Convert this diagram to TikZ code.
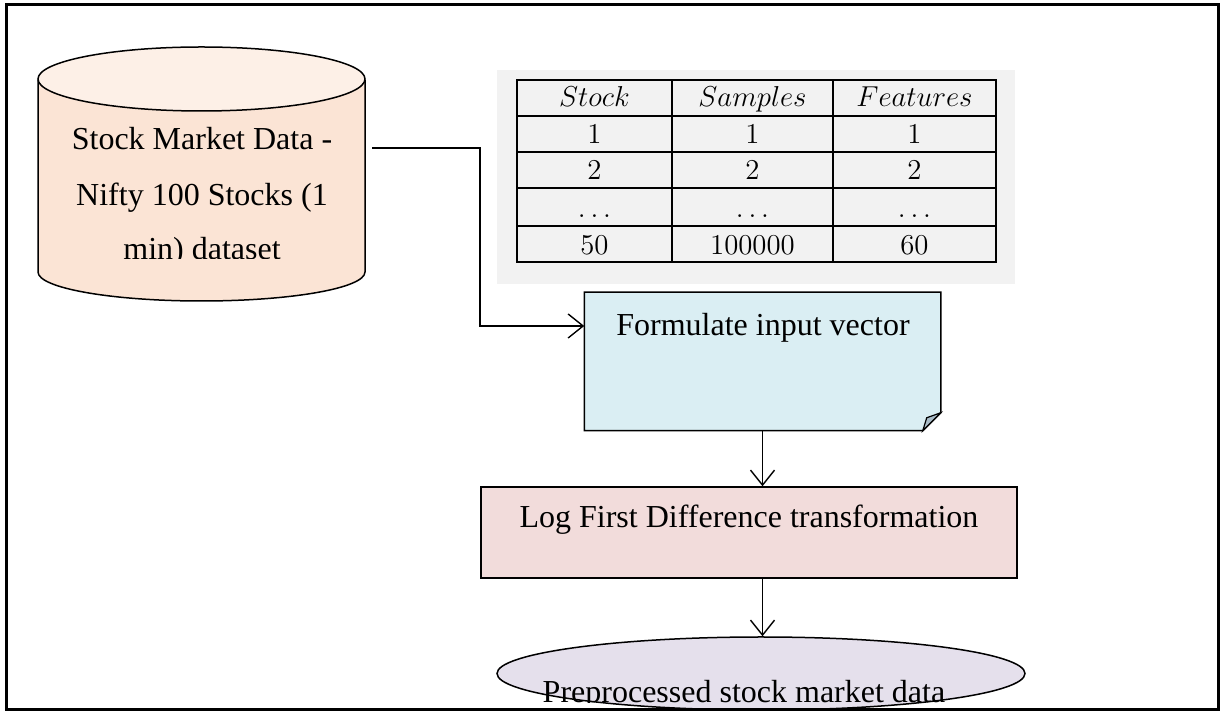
\documentclass[tikz,border=0pt]{standalone}
\usepackage{fontspec}
\setmainfont{Liberation Serif}
\usetikzlibrary{shapes.geometric,arrows.meta}
\definecolor{peach}{HTML}{FBE4D5}
\definecolor{peachtop}{HTML}{FDF0E7}
\definecolor{lblue}{HTML}{DAEEF3}
\definecolor{foldc}{HTML}{A9BCC8}
\definecolor{lpink}{HTML}{F2DCDB}
\definecolor{lav}{HTML}{E5E0EC}
\definecolor{tgray}{HTML}{F2F2F2}
\begin{document}
\begin{tikzpicture}[x=0.5pt,y=-0.5pt,line width=0.75pt,
  lbl/.style={font=\fontsize{16}{19}\selectfont,inner sep=0pt,anchor=base},
  tcell/.style={font=\fontsize{15}{17}\selectfont,inner sep=0pt,anchor=base},
  conn/.style={-{Straight Barb[length=7.5pt,width=12pt]},line width=0.7pt},
  boxnode/.style={rectangle,inner sep=0pt}]
\useasboundingbox (0,0) rectangle (1222,715);

% table background and grid
\node[boxnode,fill=tgray,minimum width=259pt,minimum height=107pt] (tblbg) at (756,177) {};
\draw[line width=1pt] (517,80) rectangle (996,262);
\foreach \xx in {672,833} \draw[line width=1pt] (\xx,80) -- (\xx,262);
\foreach \yy in {116,152,188,226} \draw[line width=1pt] (517,\yy) -- (996,\yy);
\node[tcell] (h1) at (594.5,107) {$Stock$};
\node[tcell] (h2) at (752.5,107) {$Samples$};
\node[tcell] (h3) at (914.5,107) {$Features$};
\node[tcell] (a1) at (594.5,144) {$1$};
\node[tcell] (a2) at (752.5,144) {$1$};
\node[tcell] (a3) at (914.5,144) {$1$};
\node[tcell] (b1) at (594.5,180) {$2$};
\node[tcell] (b2) at (752.5,180) {$2$};
\node[tcell] (b3) at (914.5,180) {$2$};
\node[tcell] (c1) at (594.5,218) {$\ldots$};
\node[tcell] (c2) at (752.5,218) {$\ldots$};
\node[tcell] (c3) at (914.5,218) {$\ldots$};
\node[tcell] (d1) at (594.5,255) {$50$};
\node[tcell] (d2) at (752.5,255) {$100000$};
\node[tcell] (d3) at (914.5,255) {$60$};

% cylinder
\fill[peach] (38,80) -- (38,272) arc[start angle=180,end angle=0,x radius=163.5,y radius=29] -- (365,80) -- cycle;
\draw (38,80) -- (38,272) arc[start angle=180,end angle=0,x radius=163.5,y radius=29] -- (365,80);
\draw[fill=peachtop] (201.5,79) ellipse[x radius=163.5,y radius=32];
\begin{scope}
\clip (38,112) rectangle (365,259);
\node[lbl] (db1) at (202,150) {Stock Market Data -};
\node[lbl] (db2) at (202,206) {Nifty 100 Stocks (1};
\node[lbl] (db3) at (202,260) {min) dataset};
\end{scope}
\coordinate (dbout) at (372,148);

% formulate input vector (note shape)
\node[boxnode,minimum width=177.5pt,minimum height=68.5pt] (fv) at (762.5,361.5) {};
\draw[fill=lblue] (fv.north west) -- (fv.north east) -- ([yshift=9pt]fv.south east)
  -- ([xshift=-9pt]fv.south east) -- (fv.south west) -- cycle;
\draw[fill=foldc,line width=0.6pt] ([yshift=9pt]fv.south east) -- ([xshift=-7pt,yshift=6.5pt]fv.south east)
  -- ([xshift=-9pt]fv.south east) -- cycle;
\node[lbl] (fvt) at (763,336) {Formulate input vector};

% log first difference
\node[boxnode,draw,fill=lpink,minimum width=268pt,minimum height=45.5pt] (lf) at (749,532.5) {};
\node[lbl] (lft) at (749,528) {Log First Difference transformation};

% preprocessed ellipse
\node[ellipse,draw,fill=lav,inner sep=0pt,minimum width=264pt,minimum height=36.5pt] (pp) at (761,673.5) {};
\begin{scope}
\clip (497,640) rectangle (1025,703);
\node[lbl] (ppt) at (744,703) {Preprocessed stock market data};
\end{scope}

% connectors
\coordinate (turn) at (480,326);
\draw[conn] (dbout) -| (turn) -- (turn -| fv.west);
\draw[conn] (fv.south) -- (fv.south |- lf.north);
\draw[conn] (fv.south |- lf.south) -- (fv.south |- pp.north);

% frame
\draw[line width=1.5pt] (6,5) rectangle (1218,710);
\end{tikzpicture}
\end{document}
